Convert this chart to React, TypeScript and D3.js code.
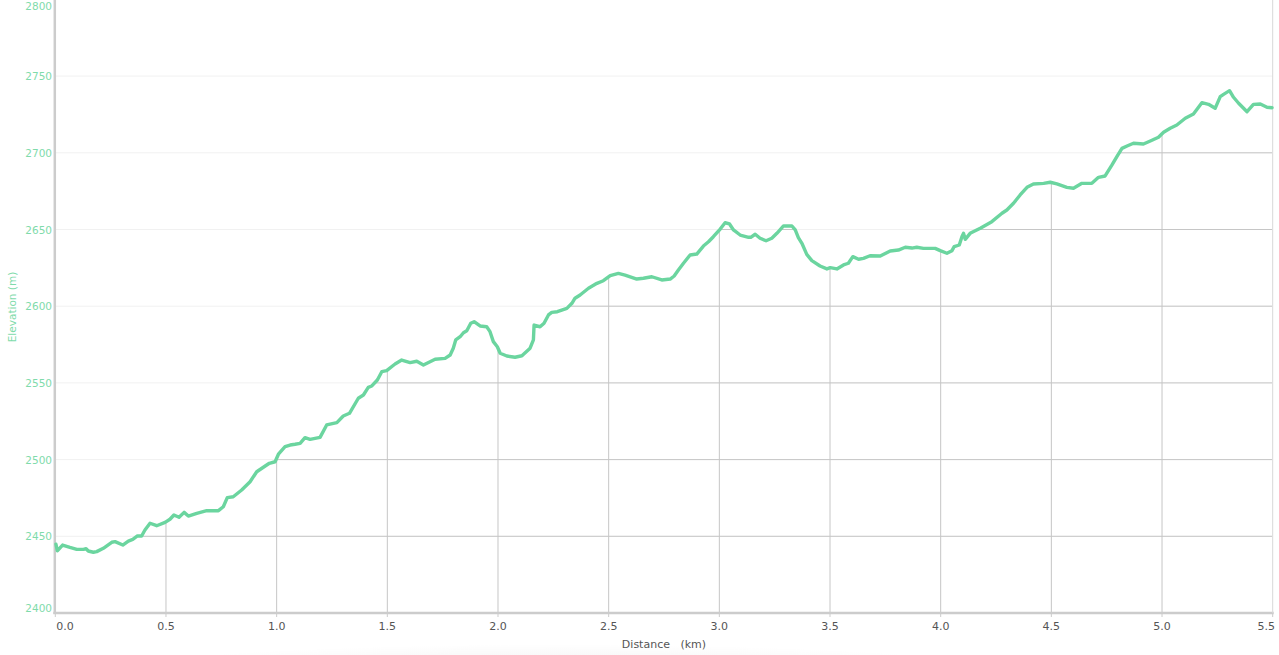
import React from "react";
import * as d3 from "d3";

const distanceKm: number[] = [
  0.003, 0.009, 0.033, 0.066, 0.097, 0.127, 0.139, 0.149, 0.172, 0.187, 0.217, 0.255, 0.27, 0.305, 0.33, 0.35, 0.371, 0.39, 0.405, 0.428,
  0.458, 0.496, 0.518, 0.536, 0.559, 0.582, 0.601, 0.639, 0.684, 0.737, 0.759, 0.777, 0.804, 0.842, 0.88, 0.91, 0.94, 0.967, 0.993, 1.008,
  1.038, 1.061, 1.083, 1.106, 1.128, 1.151, 1.196, 1.226, 1.272, 1.301, 1.329, 1.369, 1.392, 1.414, 1.43, 1.455, 1.475, 1.497, 1.535, 1.565,
  1.603, 1.633, 1.663, 1.716, 1.761, 1.784, 1.798, 1.809, 1.829, 1.844, 1.859, 1.877, 1.892, 1.919, 1.949, 1.964, 1.979, 1.997, 2.01, 2.04,
  2.077, 2.108, 2.145, 2.16, 2.163, 2.19, 2.208, 2.228, 2.243, 2.268, 2.311, 2.334, 2.348, 2.371, 2.409, 2.447, 2.476, 2.507, 2.544, 2.574,
  2.627, 2.657, 2.695, 2.74, 2.778, 2.796, 2.815, 2.838, 2.868, 2.898, 2.928, 2.951, 2.973, 3.004, 3.026, 3.046, 3.064, 3.094, 3.132, 3.142,
  3.162, 3.184, 3.211, 3.237, 3.26, 3.29, 3.328, 3.343, 3.357, 3.373, 3.395, 3.418, 3.455, 3.486, 3.501, 3.531, 3.561, 3.583, 3.603, 3.629,
  3.651, 3.681, 3.727, 3.772, 3.809, 3.84, 3.87, 3.892, 3.922, 3.975, 3.998, 4.028, 4.051, 4.061, 4.084, 4.096, 4.103, 4.111, 4.133, 4.179,
  4.231, 4.277, 4.299, 4.329, 4.359, 4.39, 4.419, 4.465, 4.495, 4.525, 4.57, 4.6, 4.638, 4.683, 4.713, 4.743, 4.774, 4.796, 4.819, 4.842,
  4.871, 4.916, 4.947, 4.984, 5.007, 5.037, 5.067, 5.105, 5.142, 5.18, 5.21, 5.24, 5.263, 5.278, 5.305, 5.323, 5.346, 5.384, 5.413, 5.444,
  5.474, 5.497,
];

const elevationM: number[] = [
  2444.8, 2440.6, 2444.3, 2442.8, 2441.5, 2441.5, 2441.9, 2440.4, 2439.6, 2440.0, 2442.2, 2446.1, 2446.5, 2444.3, 2446.9, 2448.0, 2450.2, 2450.2, 2454.1, 2458.5,
  2456.9, 2459.1, 2461.1, 2463.9, 2462.4, 2465.6, 2463.2, 2465.0, 2466.7, 2466.7, 2469.3, 2475.2, 2475.8, 2480.2, 2485.6, 2492.1, 2495.0, 2497.6, 2498.6, 2503.5,
  2508.4, 2509.5, 2510.0, 2510.6, 2514.3, 2513.2, 2514.5, 2522.6, 2524.1, 2528.4, 2530.2, 2540.0, 2542.1, 2547.1, 2548.0, 2551.9, 2557.3, 2558.0, 2562.3, 2564.9,
  2563.2, 2564.1, 2561.7, 2565.4, 2566.0, 2568.2, 2572.6, 2578.0, 2580.1, 2582.7, 2584.0, 2588.9, 2589.9, 2587.1, 2586.6, 2583.4, 2576.9, 2573.6, 2569.3, 2567.5,
  2566.7, 2567.7, 2572.6, 2578.0, 2587.7, 2586.6, 2588.9, 2594.3, 2596.0, 2596.4, 2598.6, 2601.9, 2605.2, 2607.3, 2611.7, 2614.9, 2616.6, 2619.9, 2621.4, 2620.3,
  2617.7, 2618.2, 2619.2, 2617.1, 2617.7, 2619.7, 2623.6, 2628.0, 2633.4, 2634.0, 2639.2, 2642.0, 2645.3, 2650.3, 2654.4, 2653.6, 2649.7, 2646.4, 2644.9, 2644.9,
  2646.9, 2644.3, 2642.7, 2644.3, 2647.5, 2652.3, 2652.3, 2649.7, 2644.7, 2641.0, 2633.8, 2629.7, 2626.2, 2624.3, 2625.1, 2624.3, 2626.9, 2628.0, 2632.3, 2630.6,
  2631.2, 2632.9, 2632.7, 2636.0, 2636.6, 2638.4, 2637.9, 2638.4, 2637.7, 2637.7, 2636.2, 2634.5, 2636.2, 2638.8, 2639.9, 2645.3, 2647.5, 2643.6, 2647.5, 2650.8,
  2655.1, 2660.6, 2662.7, 2667.1, 2672.5, 2677.5, 2679.7, 2680.1, 2680.8, 2679.7, 2677.5, 2676.9, 2680.1, 2680.1, 2684.0, 2684.9, 2692.1, 2697.5, 2702.9, 2704.4,
  2706.2, 2705.7, 2707.7, 2710.1, 2713.4, 2716.0, 2718.1, 2722.5, 2725.3, 2732.7, 2731.6, 2729.0, 2736.6, 2738.1, 2740.5, 2736.2, 2732.3, 2726.8, 2731.6, 2731.8,
  2729.7, 2729.4,
];

const xTicks: number[] = [0, 0.5, 1, 1.5, 2, 2.5, 3, 3.5, 4, 4.5, 5, 5.5];
const yTicks: number[] = [2400, 2450, 2500, 2550, 2600, 2650, 2700, 2750, 2800];

const W = 1279;
const H = 655;
const LINE = "#6bd59f";
const LABEL_GREEN = "#7fdbab";
const FONT = "'DejaVu Sans', Verdana, sans-serif";

export default function App() {
  const x = d3.scaleLinear().domain([0, 5.5]).range([55.3, 1272.7]);
  const y = d3.scaleLinear().domain([2400, 2800]).range([613, -0.6]);
  const pts: [number, number][] = distanceKm.map((d, i) => [d, elevationM[i]]);
  const line = d3
    .line<[number, number]>()
    .x((d) => x(d[0]))
    .y((d) => y(d[1]))
    .curve(d3.curveLinear);
  const area = d3
    .area<[number, number]>()
    .x((d) => x(d[0]))
    .y0(y(2400))
    .y1((d) => y(d[1]))
    .curve(d3.curveLinear);
  const [x0, x1] = x.range();
  const yBase = y(2400);

  return (
    <svg
      width={W}
      height={H}
      style={{ position: "absolute", left: 0, top: 0, display: "block", background: "#fff" }}
    >
      <defs>
        <clipPath id="under">
          <path d={area(pts) || ""} />
        </clipPath>
        <radialGradient id="shadow" cx="0.5" cy="0.5" r="0.5">
          <stop offset="0%" stopColor="#000" stopOpacity={0.07} />
          <stop offset="100%" stopColor="#000" stopOpacity={0} />
        </radialGradient>
      </defs>
      {/* bottom shadow */}
      <ellipse cx={560} cy={676} rx={480} ry={32} fill="url(#shadow)" />
      {/* faint grid everywhere */}
      {yTicks.slice(1, -1).map((t) => (
        <line key={"fg" + t} x1={x0} x2={x1} y1={y(t)} y2={y(t)} stroke="#f1f1f1" strokeWidth={1} />
      ))}
      {/* strong grid under curve */}
      <g clipPath="url(#under)">
        {yTicks.slice(1, -1).map((t) => (
          <line key={"sg" + t} x1={x0} x2={x1} y1={y(t)} y2={y(t)} stroke="#c6c6c6" strokeWidth={1} />
        ))}
        {xTicks.slice(1, -1).map((t) => (
          <line key={"sv" + t} x1={x(t)} x2={x(t)} y1={0} y2={yBase} stroke="#c6c6c6" strokeWidth={1} />
        ))}
      </g>
      {/* axes */}
      <line x1={x0 - 0.5} x2={x0 - 0.5} y1={0} y2={yBase + 1} stroke="#cccccc" strokeWidth={2.5} />
      <line x1={x0 - 2} x2={x1 + 1} y1={yBase} y2={yBase} stroke="#cccccc" strokeWidth={2.5} />
      <line x1={x1} x2={x1} y1={0} y2={yBase} stroke="#d8d8d8" strokeWidth={1} />
      {xTicks.map((t) => (
        <line key={"xt" + t} x1={x(t)} x2={x(t)} y1={yBase} y2={yBase + 4} stroke="#cccccc" strokeWidth={1} />
      ))}
      {/* line */}
      <path d={line(pts) || ""} fill="none" stroke={LINE} strokeWidth={3.4} strokeLinejoin="round" strokeLinecap="round" />
      {/* y tick labels */}
      {yTicks.map((t, i) => {
        let yy = y(t) + 4;
        if (i === 0) yy = y(t) - 1;
        if (i === yTicks.length - 1) yy = 10;
        return (
          <text key={"yl" + t} x={52} y={yy} textAnchor="end" fontFamily={FONT} fontSize={10.5} fill={LABEL_GREEN}>
            {t}
          </text>
        );
      })}
      {/* x tick labels */}
      {xTicks.map((t, i) => {
        let xx = x(t);
        let anchor: "middle" | "start" | "end" = "middle";
        if (i === 0) xx = x(t) + 1;
        if (i === 0) anchor = "start";
        if (i === xTicks.length - 1) {
          xx = W - 4;
          anchor = "end";
        }
        return (
          <text key={"xl" + t} x={xx} y={630} textAnchor={anchor} fontFamily={FONT} fontSize={11} fill="#555">
            {t.toFixed(1)}
          </text>
        );
      })}
      {/* axis titles */}
      <text
        x={664}
        y={648}
        textAnchor="middle"
        fontFamily={FONT}
        fontSize={11}
        fill="#555"
        style={{ whiteSpace: "pre" }}
      >
        {"Distance   (km)"}
      </text>
      <text
        transform="translate(16,307) rotate(-90)"
        textAnchor="middle"
        fontFamily={FONT}
        fontSize={10.5}
        fill={LABEL_GREEN}
      >
        Elevation (m)
      </text>
    </svg>
  );
}
